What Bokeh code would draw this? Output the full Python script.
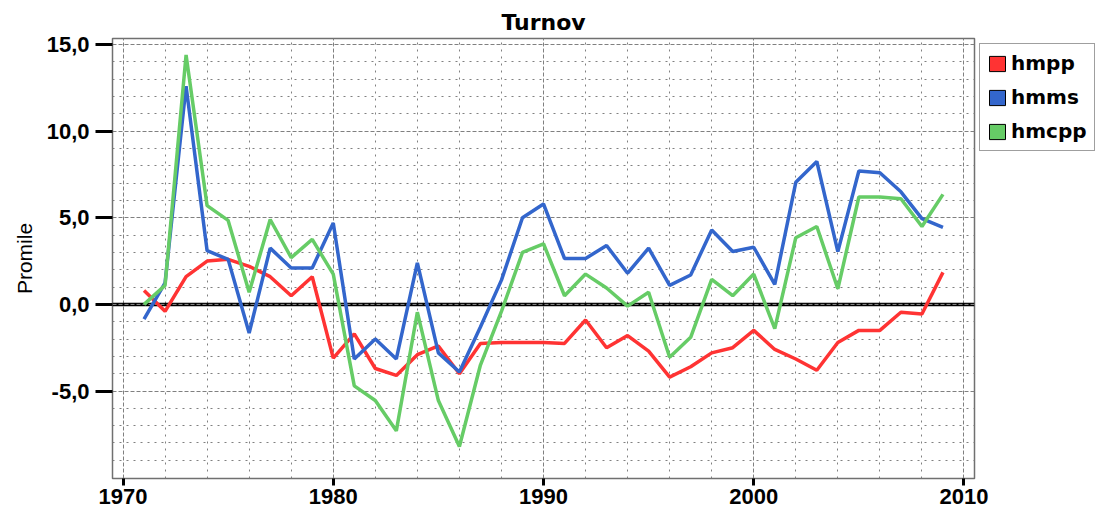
import math
from bokeh.plotting import figure
from bokeh.models import (FixedTicker, CustomJSTickFormatter, Span, Legend, LegendItem,
                          ColumnDataSource, Range1d)
from bokeh.embed import file_html
from bokeh.resources import INLINE

years = list(range(1971, 2010))
hmpp = [0.8, -0.4, 1.6, 2.5, 2.6, 2.2, 1.6, 0.5, 1.6, -3.1,
        -1.7, -3.7, -4.1, -2.9, -2.4, -4.0, -2.25, -2.2, -2.2, -2.2,
        -2.25, -0.9, -2.5, -1.8, -2.7, -4.2, -3.6, -2.8, -2.5, -1.5,
        -2.6, -3.15, -3.8, -2.2, -1.5, -1.5, -0.45, -0.55, 1.85]
hmms = [-0.85, 1.25, 12.6, 3.1, 2.6, -1.65, 3.25, 2.1, 2.1, 4.7,
        -3.15, -2.0, -3.15, 2.4, -2.8, -3.9, -1.3, 1.4, 5.0, 5.8,
        2.65, 2.65, 3.4, 1.8, 3.25, 1.1, 1.7, 4.3, 3.05, 3.3,
        1.15, 7.05, 8.25, 3.05, 7.7, 7.6, 6.5, 4.95, 4.45]
hmcpp = [0.0, 1.1, 14.4, 5.7, 4.85, 0.7, 4.9, 2.7, 3.75, 1.75,
         -4.7, -5.55, -7.3, -0.45, -5.55, -8.2, -3.5, -0.4, 3.0, 3.5,
         0.5, 1.75, 0.95, -0.1, 0.7, -3.05, -1.9, 1.45, 0.5, 1.75,
         -1.4, 3.85, 4.5, 0.9, 6.2, 6.2, 6.1, 4.5, 6.35]

series = [("hmpp", hmpp, "#FF3333"), ("hmms", hmms, "#3366CC"), ("hmcpp", hmcpp, "#66CC66")]

x_major = [1970, 1980, 1990, 2000, 2010]
x_minor = [y for y in range(1968, 2012, 2) if y % 10 != 0]
y_major = [-5, 0, 5, 10, 15]
y_minor = [v for v in range(-10, 16) if v % 5 != 0]

p = figure(frame_width=862, frame_height=440, output_backend="svg", toolbar_location=None,
           x_range=Range1d(1969.5, 2010.5), y_range=Range1d(-10.05, 15.35),
           min_border_left=112, min_border_top=38, min_border_bottom=36, min_border_right=0)
p.background_fill_color = "white"
p.border_fill_color = "white"
p.outline_line_color = "#707070"
p.outline_line_width = 1.5

p.title.text = "Turnov"
p.title.align = "center"
p.title.text_font = "DejaVu Sans"
p.title.text_font_style = "bold"
p.title.text_font_size = "22px"
p.title.text_color = "black"
p.title.standoff = 8

p.xaxis.ticker = FixedTicker(ticks=x_major, minor_ticks=x_minor)
p.yaxis.ticker = FixedTicker(ticks=y_major, minor_ticks=y_minor)
p.yaxis.formatter = CustomJSTickFormatter(code="return tick.toFixed(1).replace('.', ',');")

for ax in (p.xaxis, p.yaxis):
    ax.axis_line_color = None
    ax.major_tick_line_color = "black"
    ax.major_tick_line_width = 3
    ax.major_tick_in = 0
    ax.minor_tick_line_color = None
    ax.major_label_text_font = "Liberation Sans"
    ax.major_label_text_font_style = "bold"
    ax.major_label_text_font_size = "22px"
    ax.major_label_text_color = "black"

p.xaxis.major_tick_out = 7
p.xaxis.major_label_standoff = 3
p.yaxis.major_tick_out = 17
p.yaxis.major_label_standoff = 6
p.yaxis.axis_label = "Promile"
p.yaxis.axis_label_text_font = "Liberation Sans"
p.yaxis.axis_label_text_font_style = "normal"
p.yaxis.axis_label_text_font_size = "21px"
p.yaxis.axis_label_text_color = "black"
p.yaxis.axis_label_standoff = 8

for g in (p.xgrid, p.ygrid):
    g.grid_line_color = "#808080"
    g.grid_line_dash = "4 2"
    g.grid_line_width = 1
    g.minor_grid_line_color = "#808080"
    g.minor_grid_line_dash = "2 5"
    g.minor_grid_line_width = 1

zero = Span(location=0, dimension="width", line_color="black", line_width=3.5, level="underlay")
zero2 = Span(location=0, dimension="width", line_color="#909090", line_width=1,
             line_dash="4 2", level="underlay")
p.add_layout(zero)
p.add_layout(zero2)

items = []
for name, vals, col in series:
    p.line(years, vals, line_color=col, line_width=3.5)
for name, vals, col in series:
    src = ColumnDataSource(dict(x=[math.nan], y=[math.nan]))
    r = p.rect(x="x", y="y", width=1, height=1, source=src, fill_color=col,
               line_color="black", line_width=1)
    items.append(LegendItem(label=name, renderers=[r]))

legend = Legend(items=items, location="top_left", margin=5, padding=7, spacing=10,
                glyph_width=20, glyph_height=19, label_standoff=4,
                label_text_font="DejaVu Sans", label_text_font_style="bold",
                label_text_font_size="20px", label_text_color="black",
                border_line_color="#404040",
                border_line_width=1, background_fill_color="white", background_fill_alpha=1)
p.add_layout(legend, "right")

open("out.html", "w").write(file_html(p, INLINE))
